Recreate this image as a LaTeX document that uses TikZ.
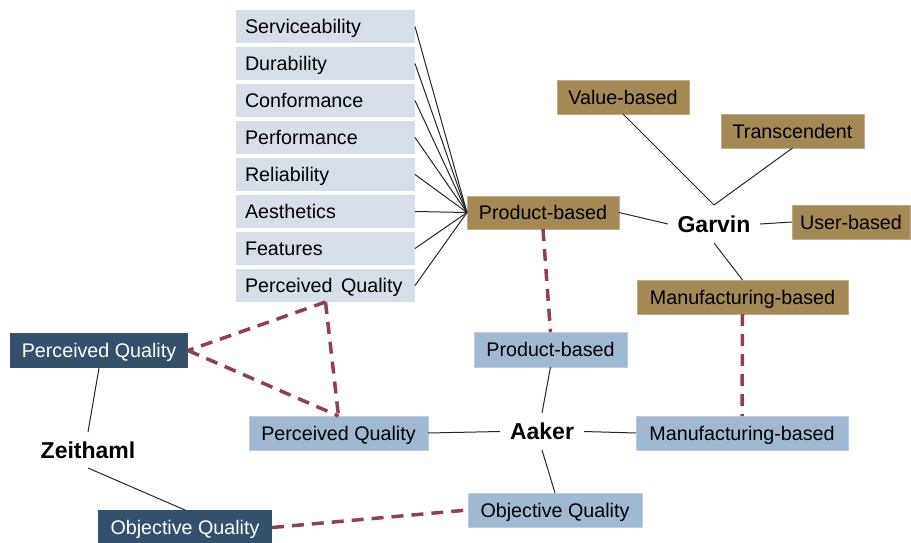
\documentclass[tikz,border=0pt]{standalone}
\usepackage{fontspec}
\setmainfont{Liberation Sans}
\definecolor{listfill}{RGB}{214,222,231}
\definecolor{goldfill}{RGB}{163,138,85}
\definecolor{bluefill}{RGB}{161,185,208}
\definecolor{darkfill}{RGB}{52,80,106}
\definecolor{dashcol}{RGB}{140,66,82}
\begin{document}
\begin{tikzpicture}[x=1pt,y=-1pt,
  every node/.style={font=\fontsize{19.7pt}{23pt}\selectfont, inner sep=0pt, outer sep=0pt},
  boxtext/.style={text height=14.1pt, text depth=0pt},
  listbox/.style={boxtext, fill=listfill, minimum height=33pt, text width=161pt, inner xsep=9pt, align=left, anchor=center},
  goldbox/.style={boxtext, fill=goldfill, draw=goldfill!70!white, line width=0.6pt, minimum height=34pt, text=black},
  bluebox/.style={boxtext, fill=bluefill, draw=bluefill!70!white, line width=0.6pt, minimum height=34pt, text=black},
  darkbox/.style={boxtext, fill=darkfill, minimum height=35pt, text=white},
  hub/.style={font=\fontsize{23pt}{26pt}\selectfont\bfseries},
  link/.style={draw=black!85, line width=1pt},
  dlink/.style={draw=dashcol, line width=3.5pt, dash pattern=on 12pt off 8pt},
]
\useasboundingbox (0,0) rectangle (911,542);
% list boxes
\node[listbox] (l1) at (325.5,26.5) {\mbox{Serviceability}};
\node[listbox] (l2) at (325.5,63.5) {\mbox{Durability}};
\node[listbox] (l3) at (325.5,100.5) {\mbox{Conformance}};
\node[listbox] (l4) at (325.5,137.5) {\mbox{Performance}};
\node[listbox] (l5) at (325.5,174.5) {\mbox{Reliability}};
\node[listbox] (l6) at (325.5,211.5) {\mbox{Aesthetics}};
\node[listbox] (l7) at (325.5,248.5) {\mbox{Features}};
\node[listbox] (l8) at (325.5,285.5) {\mbox{Perceived\hspace{8.5pt}Quality}};
% Garvin
\node[goldbox, minimum width=152pt, minimum height=33pt] (gpb) at (543,212.5) {Product-based};
\node[goldbox, minimum width=132pt] (vb) at (623,97) {Value-based};
\node[goldbox, minimum width=143pt] (tr) at (792.5,131) {Transcendent};
\node[goldbox, minimum width=118pt] (ub) at (851,222) {User-based};
\node[goldbox, minimum width=211pt] (gman) at (742.5,297) {Manufacturing-based};
\node[hub, minimum width=92pt, minimum height=38pt] (garvin) at (714,224) {Garvin};
% Aaker
\node[hub, minimum width=84pt, minimum height=37pt] (aaker) at (542,431.5) {Aaker};
\node[bluebox, minimum width=153pt, minimum height=35pt] (bpb) at (550.5,349.5) {Product-based};
\node[bluebox, minimum width=179pt] (bpq) at (338.5,433) {Perceived Quality};
\node[bluebox, minimum width=212pt] (bman) at (742,433) {Manufacturing-based};
\node[bluebox, minimum width=174pt] (boq) at (555,510) {Objective Quality};
% Zeithaml
\node[hub, minimum width=110pt, minimum height=36pt] (zeit) at (88,450) {Zeithaml};
\node[darkbox, minimum width=178pt] (dpq) at (99,350.5) {Perceived Quality};
\node[darkbox, minimum width=174pt] (doq) at (185,527.5) {Objective Quality};
% links
\foreach \i in {1,...,8} { \draw[link] (l\i.east) -- (gpb.west); }
\draw[link] (gpb.east) -- (garvin.west);
\draw[link] (vb.south) -- (garvin.north);
\draw[link] (tr.south) -- (garvin.north);
\draw[link] (garvin.east) -- (ub.west);
\draw[link] (garvin.south) -- (gman.north);
\draw[link] (bpq.east) -- (aaker.west);
\draw[link] (aaker.east) -- (bman.west);
\draw[link] (bpb.south) -- (aaker.north);
\draw[link] (aaker.south) -- (boq.north);
\draw[link] (dpq.south) -- (zeit.north);
\draw[link] (zeit.south) -- (doq.north);
% dashed
\draw[dlink] (gpb.south) -- (bpb.north);
\draw[dlink] (gman.south) -- (bman.north);
\draw[dlink] (l8.south) -- (dpq.east);
\draw[dlink] (l8.south) -- (bpq.north);
\draw[dlink] (dpq.east) -- (bpq.north);
\draw[dlink] (doq.east) -- (boq.west);
\end{tikzpicture}
\end{document}
